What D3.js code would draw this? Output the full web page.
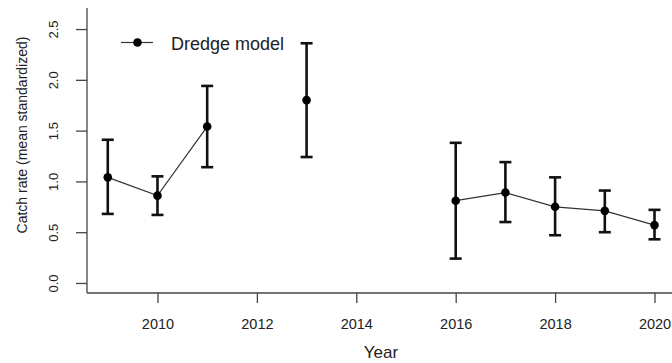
<!DOCTYPE html>
<html>
<head>
<meta charset="utf-8">
<script src="https://cdn.jsdelivr.net/npm/d3@7"></script>
<style>
  html, body { margin: 0; padding: 0; background: #fff; }
  svg { display: block; font-family: "Liberation Sans", Arial, sans-serif; }
</style>
</head>
<body>
<svg id="chart" width="672" height="363"></svg>
<script>
// ---- Data ----
const years = [2009, 2010, 2011, 2013, 2016, 2017, 2018, 2019, 2020];
const means = [1.04, 0.86, 1.54, 1.80, 0.81, 0.89, 0.75, 0.71, 0.57];
const lower = [0.68, 0.67, 1.14, 1.24, 0.24, 0.60, 0.47, 0.50, 0.43];
const upper = [1.41, 1.05, 1.94, 2.36, 1.38, 1.19, 1.04, 0.91, 0.72];
const xTicks = [2010, 2012, 2014, 2016, 2018, 2020];
const yTicks = [0.0, 0.5, 1.0, 1.5, 2.0, 2.5];
const seriesName = "Dredge model";
const xTitle = "Year";
const yTitle = "Catch rate (mean standardized)";

(function () {
const data = years.map((yr, i) => ({ year: yr, mean: means[i], lo: lower[i], hi: upper[i] }));

// ---- Layout ----
const svg = d3.select("#chart");
const pLeft = 87, pRight = 672, pTop = 8, pBottom = 293;

const x = d3.scaleLinear().domain([2008.582, 2020.352]).range([pLeft, pRight]);
const y = d3.scaleLinear().domain([-0.0986, 2.7072]).range([pBottom, pTop]);

const axisColor = "#444";
svg.append("line").attr("x1", pLeft).attr("x2", pLeft).attr("y1", pTop).attr("y2", pBottom)
  .attr("stroke", axisColor).attr("stroke-width", 1.3);
svg.append("line").attr("x1", pLeft).attr("x2", pRight).attr("y1", pBottom).attr("y2", pBottom)
  .attr("stroke", axisColor).attr("stroke-width", 1.3);

// x axis
const xAxis = d3.axisBottom(x).tickValues(xTicks).tickFormat(d3.format("d")).tickSize(10).tickPadding(16);
const gx = svg.append("g").attr("transform", `translate(0,${pBottom})`).call(xAxis);
gx.select(".domain").remove();
gx.selectAll(".tick line").attr("stroke", axisColor).attr("stroke-width", 1.3);
gx.selectAll(".tick text").attr("fill", "#222").attr("font-size", 14.5)
  .attr("font-family", "Liberation Sans, Arial, sans-serif");

// y axis
const yAxis = d3.axisLeft(y).tickValues(yTicks).tickFormat(d3.format(".1f")).tickSize(11);
const gy = svg.append("g").attr("transform", `translate(${pLeft},0)`).call(yAxis);
gy.select(".domain").remove();
gy.selectAll(".tick line").attr("stroke", axisColor).attr("stroke-width", 1.3);
gy.selectAll(".tick text")
  .attr("x", null).attr("dy", null)
  .attr("text-anchor", "middle")
  .attr("transform", "translate(-29,0) rotate(-90)")
  .attr("fill", "#222").attr("font-size", 13)
  .attr("font-family", "Liberation Sans, Arial, sans-serif");

// axis titles
svg.append("text").attr("x", 381).attr("y", 358).attr("text-anchor", "middle")
  .attr("font-size", 17).attr("fill", "#222").text(xTitle);
svg.append("text").attr("transform", "translate(27,135) rotate(-90)").attr("text-anchor", "middle")
  .attr("font-size", 14).attr("fill", "#222").text(yTitle);

// connecting lines (only consecutive years)
const segments = [];
let cur = [];
data.forEach((d, i) => {
  if (i > 0 && d.year - data[i - 1].year > 1) { segments.push(cur); cur = []; }
  cur.push(d);
});
segments.push(cur);
const line = d3.line().x(d => x(d.year)).y(d => y(d.mean));
svg.append("g").selectAll("path").data(segments.filter(s => s.length > 1)).join("path")
  .attr("d", line).attr("fill", "none").attr("stroke", "#333").attr("stroke-width", 1.2);

// error bars
const cap = 6;
const eb = svg.append("g").attr("stroke", "#111").attr("stroke-width", 2.6);
eb.selectAll("line.v").data(data).join("line").attr("class", "v")
  .attr("x1", d => x(d.year)).attr("x2", d => x(d.year))
  .attr("y1", d => y(d.lo)).attr("y2", d => y(d.hi));
eb.selectAll("line.t").data(data).join("line").attr("class", "t")
  .attr("x1", d => x(d.year) - cap).attr("x2", d => x(d.year) + cap)
  .attr("y1", d => y(d.hi)).attr("y2", d => y(d.hi));
eb.selectAll("line.b").data(data).join("line").attr("class", "b")
  .attr("x1", d => x(d.year) - cap).attr("x2", d => x(d.year) + cap)
  .attr("y1", d => y(d.lo)).attr("y2", d => y(d.lo));

// points
svg.append("g").selectAll("circle").data(data).join("circle")
  .attr("cx", d => x(d.year)).attr("cy", d => y(d.mean)).attr("r", 4.3).attr("fill", "#000");

// legend
const lg = svg.append("g");
lg.append("line").attr("x1", 121).attr("x2", 153).attr("y1", 42.5).attr("y2", 42.5)
  .attr("stroke", "#333").attr("stroke-width", 1.2);
lg.append("circle").attr("cx", 137.5).attr("cy", 42.5).attr("r", 4.3).attr("fill", "#000");
lg.append("text").attr("x", 171).attr("y", 49.5).attr("font-size", 18).attr("fill", "#222").text(seriesName);
})();
</script>
</body>
</html>
